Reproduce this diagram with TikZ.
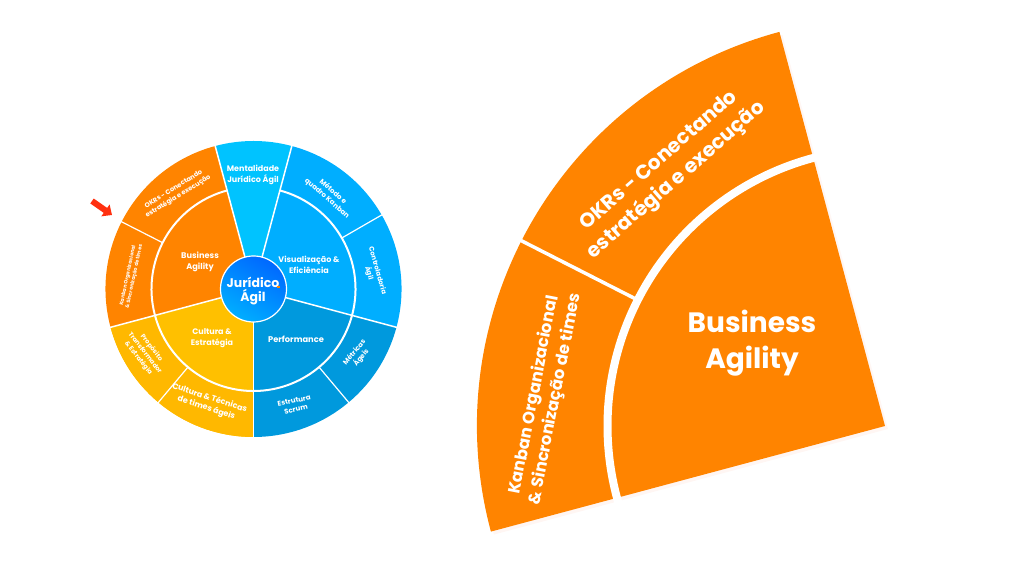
\documentclass[tikz,border=0pt]{standalone}
\usepackage{fontspec}
\setmainfont{Poppins}
\usetikzlibrary{calc,arrows.meta}
\definecolor{laranja}{HTML}{FF8400}
\definecolor{ceu}{HTML}{00C3FF}
\definecolor{azulA}{HTML}{00AEFF}
\definecolor{azulB}{HTML}{0099DD}
\definecolor{azulC}{HTML}{0068FF}
\definecolor{amareloA}{HTML}{FFC000}
\definecolor{amareloB}{HTML}{FFB800}
\definecolor{seta}{HTML}{FF3010}
\definecolor{sombra}{HTML}{FFF6F3}
\def\ringsector[#1](#2)(#3:#4:#5:#6){\fill[#1] ($(#2)+(#3:#5)$) arc (#3:#4:#5) -- ($(#2)+(#4:#6)$) arc (#4:#3:#6) -- cycle;}
\def\spoke[#1](#2)(#3:#4:#5){\draw[white,#1] ($(#2)+(#3:#4)$) -- ($(#2)+(#3:#5)$);}
\tikzset{
	rotulo/.style={text=white,font=\bfseries\fontsize{#1}{\dimexpr#1pt*13/10\relax}\selectfont,align=center,inner sep=0pt},
	rotulo/.default=8
}

\begin{document}
\begin{tikzpicture}[x=1pt,y=1pt]
				\useasboundingbox (0,0) rectangle (1024,577);
				\coordinate (roda) at (253.5,288);
				\coordinate (apice) at (885,151);
				\coordinate (apiceB) at (888,148);
				
				\ringsector[laranja](roda)(105:195:148:0);
				\ringsector[azulA](roda)(-15:75:148:0);
				\ringsector[azulB](roda)(-90:-15:148:0);
				\ringsector[amareloA](roda)(195:270:148:0);
				\ringsector[amareloB](roda)(195:270:148:103);
				\ringsector[ceu](roda)(75:105:148:0);
				
				\draw[white,line width=2pt] (roda) ++(75:102) arc (75:-165:102);
				\draw[white,line width=2pt] (roda) ++(105:102) arc (105:195:102);
				
				\spoke[line width=1.5pt](roda)(105:30:149);
				\spoke[line width=1.5pt](roda)(75:30:149);
				\spoke[line width=1.2pt](roda)(30:102:149);
				\spoke[line width=1.5pt](roda)(-15:30:149);
				\spoke[line width=1.2pt](roda)(-50:102:149);
				\spoke[line width=1.5pt](roda)(-90:30:149);
				\spoke[line width=1.2pt](roda)(-130:102:149);
				\spoke[line width=1.5pt](roda)(195:30:149);
				\spoke[line width=1.2pt](roda)(153:102:149);
				
				\node[circle,draw=white,line width=1.2pt,minimum size=66pt,inner sep=0pt,shade,top color=azulC,bottom color=azulA,shading angle=-30] (hub) at (roda) {};
				\node[rotulo=12.5] (juridico) at (253,286) {Jurídico\\[-2pt]Ágil};
				\fill[laranja] (276.5,289) rectangle (280,290.5);
				
				\node[rotulo=8] (mentalidade) at (253,402) {Mentalidade\\Jurídico Ágil};
				\node[rotulo=8.2] (business) at (200,315) {Business\\Agility};
				\node[rotulo=8] (visual) at (309,312) {Visualização \&\\Eficiência};
				\node[rotulo=8.3] (performance) at (296,238) {Performance};
				\node[rotulo=8] (cultura) at (212,239) {Cultura \&\\Estratégia};
				\node[rotulo=6.6,rotate=32] (okrs) at (176,384) {OKRs - Conectando\\estratégia e execução};
				\node[rotulo=5,rotate=78] (kanban) at (131,301) {Kanban Organizacional\\\& Sincronização de times};
				\node[rotulo=7,rotate=-41] (metodo) at (330,382) {Método e\\quadro Kanban};
				\node[rotulo=6.8,rotate=-74] (controladoria) at (373,305) {Controladoria\\Ágil};
				\node[rotulo=6.8,rotate=50] (metricas) at (358,222) {Métricas\\Ágeis};
				\node[rotulo=7,rotate=12] (estrutura) at (295,172) {Estrutura\\Scrum};
				\node[rotulo=8,rotate=-18] (tecnicas) at (208,174) {Cultura \& Técnicas\\de times ágeis};
				\node[rotulo=6.4,rotate=-52] (proposito) at (145,224) {Propósito\\Transformador\\\& Estratégia};
				
				\coordinate (setaA) at (92,376);
				\coordinate (setaB) at (112,362);
				\draw[line width=6pt,seta,-{Triangle[length=8pt,width=14pt]}] (setaA) -- (setaB);
				
				\ringsector[sombra](apiceB)(105:195:408:0);
				\ringsector[laranja](apice)(105:195:408:0);
				\draw[white,line width=8pt] (apice) ++(104:277.5) arc (104:196:277.5);
				\spoke[line width=3.5pt](apice)(153:278:410);
				
				\node[rotulo=28] (businessG) at (752,234) {Business\\Agility};
				\node[rotulo=20,rotate=41] (okrsG) at (668,406) {OKRs - Conectando\\estratégia e execução};
				\node[rotulo=16.5,rotate=79] (kanbanG) at (545,180) {Kanban Organizacional\\\& Sincronização de times};
			\end{tikzpicture}
\end{document}
